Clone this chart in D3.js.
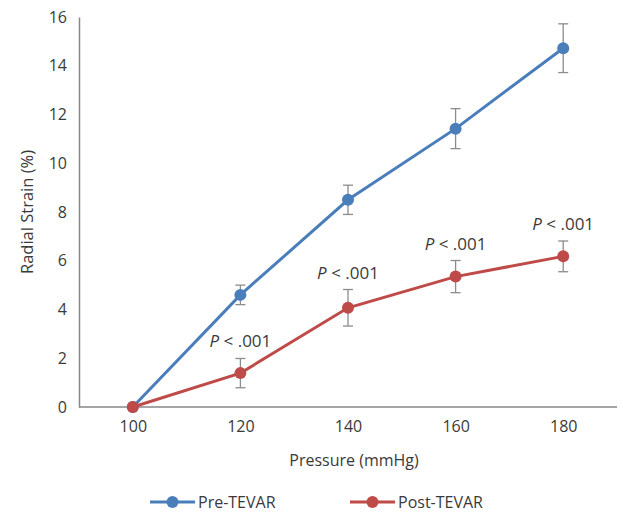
<!DOCTYPE html>
<html>
<head>
<meta charset="utf-8">
<script src="https://cdn.jsdelivr.net/npm/d3@7"></script>
<style>
  body { margin: 0; background: #fff; }
  text { font-family: "Open Sans", sans-serif; fill: #3a3a3a; }
</style>
</head>
<body>
<svg width="623" height="514"></svg>
<script>
const pressures = ["100", "120", "140", "160", "180"];
const preValues = [0, 4.6, 8.5, 11.42, 14.72];
const preErrors = [0, 0.4, 0.6, 0.82, 1.0];
const postValues = [0, 1.39, 4.07, 5.35, 6.18];
const postErrors = [0, 0.6, 0.75, 0.66, 0.63];
const pLabels = ["", "P < .001", "P < .001", "P < .001", "P < .001"];
const yTicks = [0, 2, 4, 6, 8, 10, 12, 14, 16];

const svg = d3.select("svg");
const plotLeft = 79, plotRight = 617, plotTop = 17, plotBottom = 407;

const x = d3.scalePoint().domain(pressures).range([plotLeft, plotRight]).padding(0.5);
const y = d3.scaleLinear().domain([0, 16]).range([plotBottom, plotTop]);

// y axis
const yAxis = svg.append("g")
    .attr("transform", `translate(${plotLeft},0)`)
    .call(d3.axisLeft(y).tickValues(yTicks).tickSize(0).tickPadding(12));
yAxis.select(".domain").attr("stroke", "#878787").attr("stroke-width", 1.5);
yAxis.selectAll("text").style("font-size", "16px").attr("fill", "#3a3a3a");

// x axis
const xAxis = svg.append("g")
    .attr("transform", `translate(0,${plotBottom})`)
    .call(d3.axisBottom(x).tickSize(0).tickPadding(14));
xAxis.select(".domain").attr("d", `M${plotLeft},0H${plotRight}`)
    .attr("stroke", "#878787").attr("stroke-width", 1.5);
xAxis.selectAll("text").style("font-size", "16px").attr("fill", "#3a3a3a");

svg.append("text")
    .attr("x", (plotLeft + plotRight) / 2 + 6).attr("y", 466)
    .attr("text-anchor", "middle").style("font-size", "16px")
    .text("Pressure (mmHg)");

svg.append("text")
    .attr("transform", `translate(33,${(plotTop + plotBottom) / 2}) rotate(-90)`)
    .attr("text-anchor", "middle").style("font-size", "16.5px")
    .text("Radial Strain (%)");

const series = [
    { name: "Pre-TEVAR", values: preValues, errors: preErrors, color: "#4A7EBB" },
    { name: "Post-TEVAR", values: postValues, errors: postErrors, color: "#BE4B48" }
];

const line = d3.line().x((d, i) => x(pressures[i])).y(d => y(d));

series.forEach(s => {
    const g = svg.append("g");
    g.append("path").datum(s.values)
        .attr("d", line).attr("fill", "none")
        .attr("stroke", s.color).attr("stroke-width", 3);

    // error bars
    const eb = g.selectAll(".err").data(s.values.map((v, i) => ({ v, e: s.errors[i], k: pressures[i] })).filter(d => d.e > 0))
        .join("g").attr("stroke", "#8c8c8c").attr("stroke-width", 1.3);
    eb.append("line")
        .attr("x1", d => x(d.k)).attr("x2", d => x(d.k))
        .attr("y1", d => y(d.v - d.e)).attr("y2", d => y(d.v + d.e));
    eb.append("line")
        .attr("x1", d => x(d.k) - 5).attr("x2", d => x(d.k) + 5)
        .attr("y1", d => y(d.v - d.e)).attr("y2", d => y(d.v - d.e));
    eb.append("line")
        .attr("x1", d => x(d.k) - 5).attr("x2", d => x(d.k) + 5)
        .attr("y1", d => y(d.v + d.e)).attr("y2", d => y(d.v + d.e));

    g.selectAll("circle").data(s.values).join("circle")
        .attr("cx", (d, i) => x(pressures[i])).attr("cy", d => y(d))
        .attr("r", 6).attr("fill", s.color);
});

// P labels above post error bars
pressures.forEach((k, i) => {
    if (!pLabels[i]) return;
    const t = svg.append("text")
        .attr("x", x(k)).attr("y", y(postValues[i] + postErrors[i]) - 11)
        .attr("text-anchor", "middle").style("font-size", "17px");
    const parts = pLabels[i].split(" ");
    t.append("tspan").style("font-style", "italic").text(parts[0]);
    t.append("tspan").text(" " + parts.slice(1).join(" "));
});

// legend
const legend = svg.append("g").attr("transform", "translate(0,502)");
const legendX = [150, 350];
series.forEach((s, i) => {
    const lg = legend.append("g").attr("transform", `translate(${legendX[i]},0)`);
    lg.append("line").attr("x1", 0).attr("x2", 45).attr("y1", 0).attr("y2", 0)
        .attr("stroke", s.color).attr("stroke-width", 3);
    lg.append("circle").attr("cx", 22.5).attr("cy", 0).attr("r", 6).attr("fill", s.color);
    lg.append("text").attr("x", 48).attr("y", 0).attr("dy", "0.35em")
        .style("font-size", "16px").text(s.name);
});
</script>
</body>
</html>
